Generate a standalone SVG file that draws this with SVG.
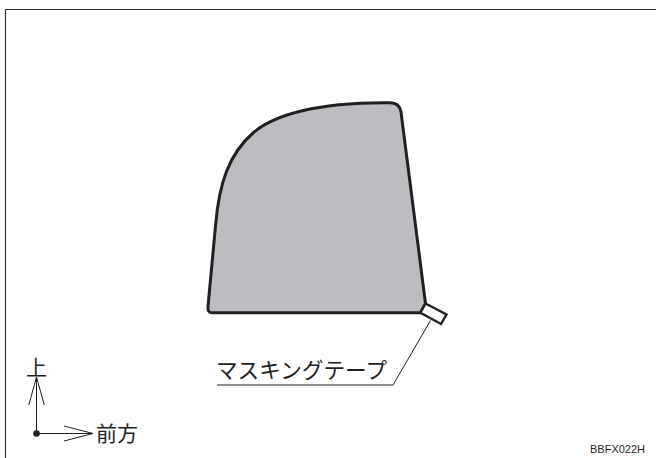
<svg xmlns="http://www.w3.org/2000/svg" width="656" height="458" viewBox="0 0 656 458">
<style>
.frame{fill:none;stroke:#333132;stroke-width:1.200}
.thin{fill:none;stroke:#231f20;stroke-width:1}
.jp{font-family:"Noto Sans CJK JP","Noto Sans",sans-serif;fill:#231f20;font-weight:400}
</style>
<rect width="656" height="458" fill="#fff"/>
<path class="frame" d="M5.500 458V9.500H656"/>
<g id="window">
<path d="M208 306.500C207.800 310.500 208.500 312.800 212 312.800H420.500L425.500 303.500L401 112C400 106 397 102.800 390 102.800C316 102 273 115.500 253 133C229 154 219 183 215.500 226Z" fill="#bbbdc0" stroke="#231f20" stroke-width="3" stroke-linejoin="round"/>
</g>
<g id="tape">
<path d="M425.500 303.500L446.500 314.500L441 324L420.500 312.800Z" fill="#fff" stroke="#231f20" stroke-width="2.400" stroke-linejoin="miter"/>
</g>
<g id="connectors">
<path class="thin" d="M430.500 320.500L393 385H217"/>
<path class="thin" d="M36.500 377V433.500H93"/>
<path class="thin" d="M28.800 405L36.500 377L44.300 405"/>
<path class="thin" d="M64 426L93 433.500L64 441"/>
<circle cx="36.500" cy="433.500" r="3.300" fill="#231f20"/>
</g>
<g id="labels">
<text class="jp" x="216" y="378" font-size="21.600" textLength="171" lengthAdjust="spacingAndGlyphs">マスキングテープ</text>
<text class="jp" x="26" y="375" font-size="21">上</text>
<text class="jp" x="96" y="441" font-size="21">前方</text>
<text x="590" y="453" font-size="11" font-family="'Liberation Sans',Arial,sans-serif" fill="#231f20">BBFX022H</text>
</g>
</svg>
